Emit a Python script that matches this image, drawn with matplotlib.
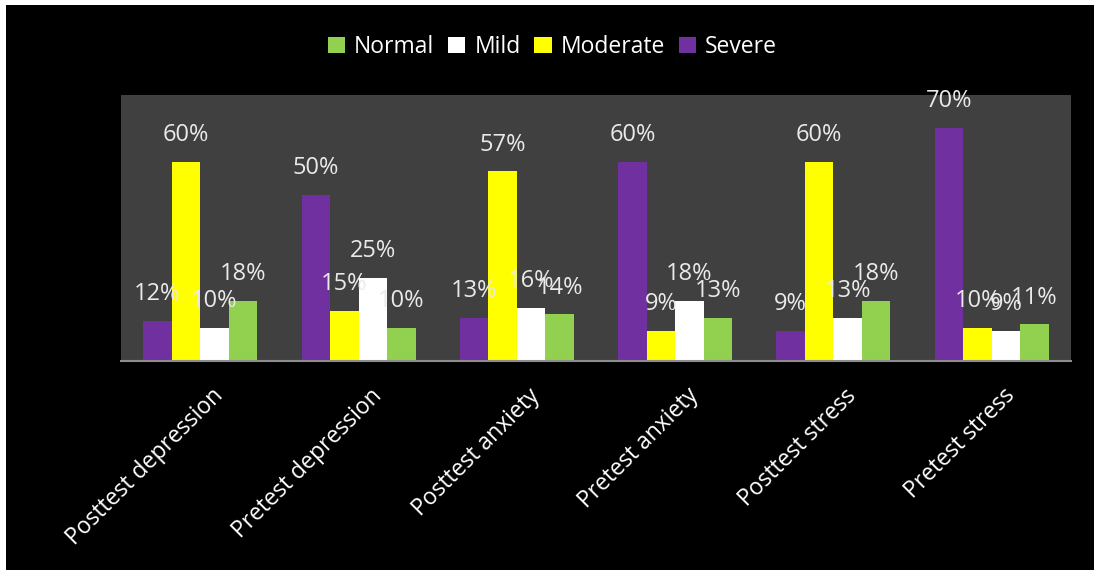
import matplotlib
matplotlib.use("Agg")
import matplotlib.pyplot as plt
import matplotlib.transforms as mtransforms
from matplotlib.patches import Rectangle
import numpy as np

categories = ["Posttest depression", "Pretest depression", "Posttest anxiety",
              "Pretest anxiety", "Posttest stress", "Pretest stress"]
severe = [12, 50, 13, 60, 9, 70]
moderate = [60, 15, 57, 9, 60, 10]
mild = [10, 25, 16, 18, 13, 9]
normal = [18, 10, 14, 13, 18, 11]

series = [("Severe", severe, "#7030A0"),
          ("Moderate", moderate, "#FFFF00"),
          ("Mild", mild, "#FFFFFF"),
          ("Normal", normal, "#92D050")]

plt.rcParams['font.family'] = ['Open Sans', 'DejaVu Sans']

fig = plt.figure(figsize=(10.94, 5.70), dpi=100, facecolor="black")
ax = fig.add_axes([121/1094, 1-361/570, 950/1094, 266/570])
ax.set_facecolor("#404040")

x = np.arange(len(categories))
w = 0.18
handles = {}
for i, (name, vals, col) in enumerate(series):
    pos = x + (i - 1.5) * w
    b = ax.bar(pos, vals, width=w, color=col, label=name, zorder=2)
    handles[name] = b
    for px, v in zip(pos, vals):
        ax.annotate(f"{v}%", (px, v), xytext=(0, 15), textcoords="offset points",
                    ha="center", va="baseline", color="#EAEAEA", fontsize=17, zorder=3)

ax.set_xlim(-0.5, len(categories) - 0.5)
ax.set_ylim(0, 80)
ax.set_yticks([])
ax.set_xticks(x)
ax.set_xticklabels([])
ax.tick_params(axis="x", length=0)

# category labels, rotated, placed slightly right of and below each tick
base = mtransforms.blended_transform_factory(ax.transData, ax.transAxes)
offset = mtransforms.ScaledTranslation(11/100, -23/100, fig.dpi_scale_trans)
for xi, cat in zip(x, categories):
    ax.text(xi, 0, cat, transform=base + offset, rotation=45, ha="right", va="top",
            rotation_mode="anchor", color="white", fontsize=16.5, clip_on=False)

for s in ["top", "right", "left"]:
    ax.spines[s].set_visible(False)
ax.spines["bottom"].set_color("#8C8C8C")
ax.spines["bottom"].set_linewidth(1.5)

order = ["Normal", "Mild", "Moderate", "Severe"]
leg = fig.legend([handles[n] for n in order], order, loc="center",
                 bbox_to_anchor=(0.505, 1-47/570), ncol=4, frameon=False,
                 fontsize=16.5, handlelength=0.75, handleheight=0.75,
                 handletextpad=0.4, columnspacing=0.6, labelcolor="white")

# white strips at the top and left edge of the image
fig.patches.append(Rectangle((0, 0), 6/1094, 1, transform=fig.transFigure,
                             facecolor="white", edgecolor="none"))
fig.patches.append(Rectangle((0, 1-5/570), 1, 5/570, transform=fig.transFigure,
                             facecolor="white", edgecolor="none"))

fig.savefig("out.png", dpi=100, facecolor="black")
